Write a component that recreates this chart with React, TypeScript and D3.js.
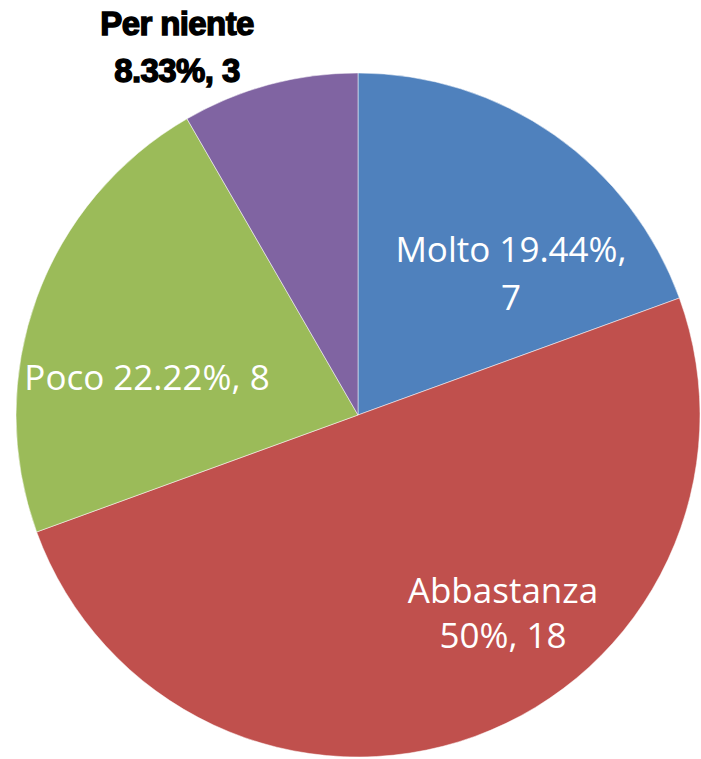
import React from "react";
import * as d3 from "d3";

const categories = ["Molto", "Abbastanza", "Poco", "Per niente"];
const values = [7, 18, 8, 3];
const colors = ["#4F81BD", "#C0504D", "#9BBB59", "#8064A2"];

const W = 701;
const H = 759;
const CX = 358;
const CY = 415;
const R = 342;

// label layout (relative to center, in px), and line breaks
const labelLayout = [
  { dx: 153, lines: [-153, -105], split: true, dark: false },
  { dx: 145, lines: [188, 233], split: true, dark: false },
  { dx: -211, lines: [-25], split: false, dark: false },
  { dx: -181, lines: [-380, -333], split: true, dark: true },
];

export default function App() {
  const total = d3.sum(values);
  const pie = d3.pie<number>().sort(null).value((d) => d)(values);
  const arc = d3.arc<d3.PieArcDatum<number>>().innerRadius(0).outerRadius(R);
  const pct = (v: number) => `${Math.round((v / total) * 10000) / 100}%`;

  return (
    <svg
      width={W}
      height={H}
      style={{ position: "absolute", left: 0, top: 0, background: "#fff" }}
    >
      <g transform={`translate(${CX},${CY})`}>
        {pie.map((p, i) => (
          <path key={i} d={arc(p) || ""} fill={colors[i]} stroke="#ffffff" strokeOpacity={0.5} strokeWidth={1} />
        ))}
        {pie.map((p, i) => {
          const L = labelLayout[i];
          const full = `${categories[i]} ${pct(values[i])}, ${values[i]}`;
          let lines: string[];
          if (!L.split) lines = [full];
          else if (i === 0) lines = [`${categories[i]} ${pct(values[i])},`, `${values[i]}`];
          else lines = [categories[i], `${pct(values[i])}, ${values[i]}`];
          return (
            <g key={"l" + i}>
              {lines.map((t, j) => (
                <text
                  key={j}
                  x={L.dx}
                  y={L.lines[j]}
                  textAnchor="middle"
                  fill={L.dark ? "#000" : "#fff"}
                  fontFamily={L.dark ? "Liberation Sans, Arial, sans-serif" : "Open Sans, sans-serif"}
                  fontWeight={L.dark ? 900 : 400}
                  fontSize={L.dark ? 33 : 35}
                  letterSpacing={L.dark ? -0.6 : 0}
                  stroke={L.dark ? "#000" : "none"}
                  strokeWidth={L.dark ? 1.4 : 0}
                >
                  {t}
                </text>
              ))}
            </g>
          );
        })}
      </g>
    </svg>
  );
}
